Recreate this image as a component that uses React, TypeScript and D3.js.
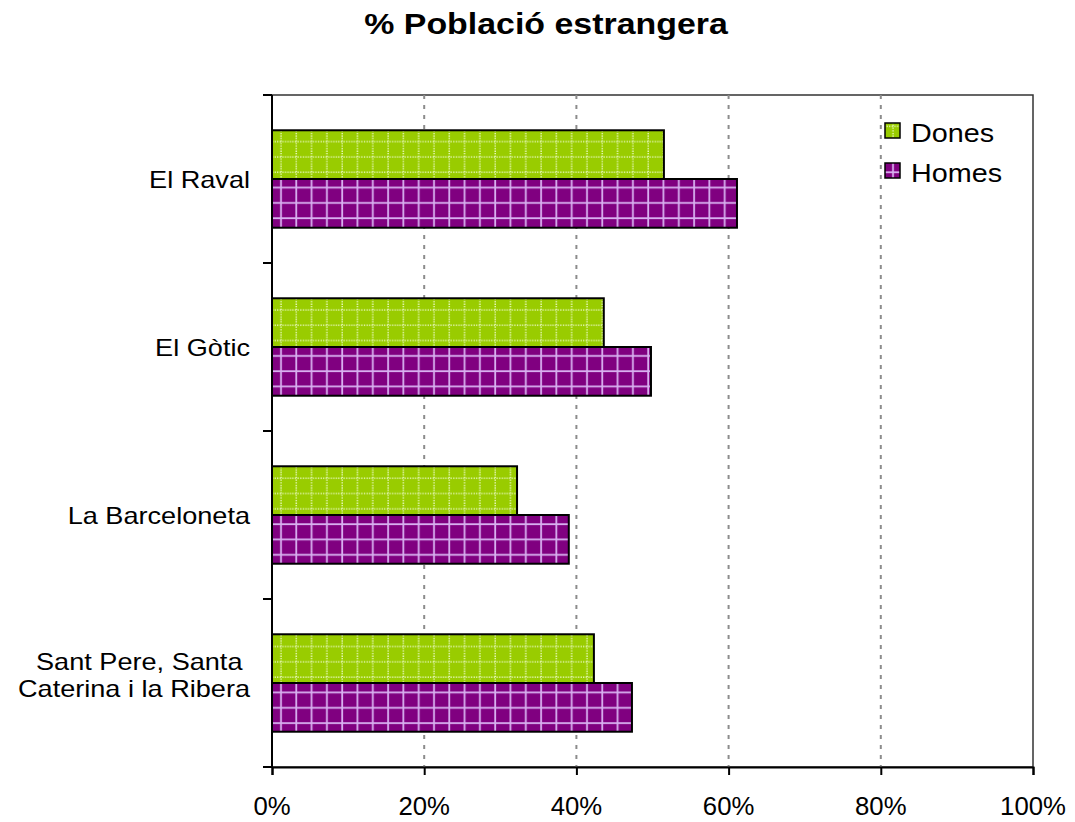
import React, { useEffect, useRef } from 'react';
import * as d3 from 'd3';

const categories = ['El Raval', 'El Gòtic', 'La Barceloneta', 'Sant Pere, Santa \nCaterina i la Ribera'];
const series = ['Dones', 'Homes'];
const dones = [51.5, 43.6, 32.2, 42.3];
const homes = [61.1, 49.8, 39.0, 47.3];
const xTicks = [0, 20, 40, 60, 80, 100];

const App: React.FC = () => {
  const svgRef = useRef<SVGSVGElement>(null);

  useEffect(() => {
    if (!svgRef.current) return;
    const svg = d3.select(svgRef.current);
    svg.selectAll('*').remove();

    const left = 272, right = 1033, top = 95, bottom = 767;
    const font = 'Liberation Sans, Arial, sans-serif';

    const x = d3.scaleLinear().domain([0, 100]).range([left, right]);
    const y = d3.scaleBand<string>().domain(categories).range([top, bottom]).paddingInner(0.42).paddingOuter(0.21);
    const sub = d3.scaleBand<string>().domain(series).range([0, y.bandwidth()]);

    // text with a slight horizontal stretch, like the reference rendering
    const stretched = (px: number, py: number, sx: number, size: number, anchor: string, weight = 'normal') =>
      svg.append('g').attr('transform', `translate(${px},${py}) scale(${sx},1)`)
        .append('text').attr('x', 0).attr('y', 0).attr('text-anchor', anchor)
        .attr('font-family', font).attr('font-size', size).attr('font-weight', weight)
        .attr('fill', '#000').style('white-space', 'pre');

    // Patterns
    const defs = svg.append('defs');
    const pg = defs.append('pattern').attr('id', 'pat-dones').attr('patternUnits', 'userSpaceOnUse')
      .attr('width', 15.3).attr('height', 15.3).attr('x', left + 5).attr('y', 0);
    pg.append('rect').attr('width', 15.3).attr('height', 15.3).attr('fill', '#99cc00');
    pg.append('line').attr('x1', 4).attr('x2', 4).attr('y1', 0).attr('y2', 15.3)
      .attr('stroke', '#f4ffd8').attr('stroke-width', 1.3).attr('stroke-dasharray', '1.3,1.3');
    pg.append('line').attr('y1', 4).attr('y2', 4).attr('x1', 0).attr('x2', 15.3)
      .attr('stroke', '#f4ffd8').attr('stroke-width', 1.3).attr('stroke-dasharray', '1.3,1.3');

    const pp = defs.append('pattern').attr('id', 'pat-homes').attr('patternUnits', 'userSpaceOnUse')
      .attr('width', 15.3).attr('height', 15.3).attr('x', left + 5).attr('y', 0);
    pp.append('rect').attr('width', 15.3).attr('height', 15.3).attr('fill', '#800080');
    pp.append('line').attr('x1', 4).attr('x2', 4).attr('y1', 0).attr('y2', 15.3)
      .attr('stroke', '#d8b0f0').attr('stroke-width', 1.8);
    pp.append('line').attr('y1', 4).attr('y2', 4).attr('x1', 0).attr('x2', 15.3)
      .attr('stroke', '#d8b0f0').attr('stroke-width', 1.8);

    // Title
    stretched(546, 34, 1.13, 30, 'middle', 'bold').text('% Població estrangera');

    // Plot border
    svg.append('rect').attr('x', left).attr('y', top).attr('width', right - left).attr('height', bottom - top)
      .attr('fill', 'none').attr('stroke', '#333').attr('stroke-width', 1.5);

    // Gridlines
    svg.append('g').selectAll('line').data(xTicks.filter(t => t > 0 && t < 100)).join('line')
      .attr('x1', d => x(d)).attr('x2', d => x(d)).attr('y1', top).attr('y2', bottom)
      .attr('stroke', '#8c8c8c').attr('stroke-width', 2).attr('stroke-dasharray', '4,6');

    // Bars
    const data = categories.flatMap((c, i) => [
      { c, s: 'Dones', v: dones[i] },
      { c, s: 'Homes', v: homes[i] },
    ]);
    svg.append('g').selectAll('rect').data(data).join('rect')
      .attr('x', x(0))
      .attr('y', d => (y(d.c) as number) + (sub(d.s) as number))
      .attr('width', d => x(d.v) - x(0))
      .attr('height', sub.bandwidth())
      .attr('fill', d => d.s === 'Dones' ? 'url(#pat-dones)' : 'url(#pat-homes)')
      .attr('stroke', '#000').attr('stroke-width', 2);

    // Axes
    const xAxis = svg.append('g').attr('transform', `translate(0,${bottom})`)
      .call(d3.axisBottom(x).tickValues(xTicks).tickFormat(() => '').tickSize(8));
    xAxis.select('.domain').attr('stroke', '#000').attr('stroke-width', 2);
    xAxis.selectAll('.tick line').attr('stroke', '#000').attr('stroke-width', 2);
    xTicks.forEach(t => {
      stretched(x(t), 815, 1.03, 25, 'middle').text(`${t}%`);
    });

    const ySep = d3.range(categories.length + 1).map(i => top + (i * (bottom - top)) / categories.length);
    svg.append('line').attr('x1', left).attr('x2', left).attr('y1', top).attr('y2', bottom)
      .attr('stroke', '#000').attr('stroke-width', 2);
    svg.append('g').selectAll('line').data(ySep).join('line')
      .attr('x1', left - 9).attr('x2', left).attr('y1', d => d).attr('y2', d => d)
      .attr('stroke', '#000').attr('stroke-width', 2);

    // Category labels
    categories.forEach(c => {
      const lines = c.split('\n');
      const cy = (y(c) as number) + y.bandwidth() / 2;
      lines.forEach((l, i) => {
        const by = lines.length === 1 ? cy + 8.5 : cy - 13 + i * 27;
        stretched(250, by, 1.13, 24, 'end').text(l);
      });
    });

    // Legend
    series.forEach((s, i) => {
      const ly = 130.5 + i * 40;
      svg.append('rect').attr('x', 885).attr('y', ly - 7.5).attr('width', 15).attr('height', 15)
        .attr('fill', s === 'Dones' ? 'url(#pat-dones)' : 'url(#pat-homes)')
        .attr('stroke', '#000').attr('stroke-width', 1.5);
      stretched(911, ly + 11.5, 1.15, 25, 'start').text(s);
    });
  }, []);

  return <svg ref={svgRef} width={1075} height={822} style={{ position: 'absolute', left: 0, top: 0, background: '#fff' }} />;
};

export default App;
